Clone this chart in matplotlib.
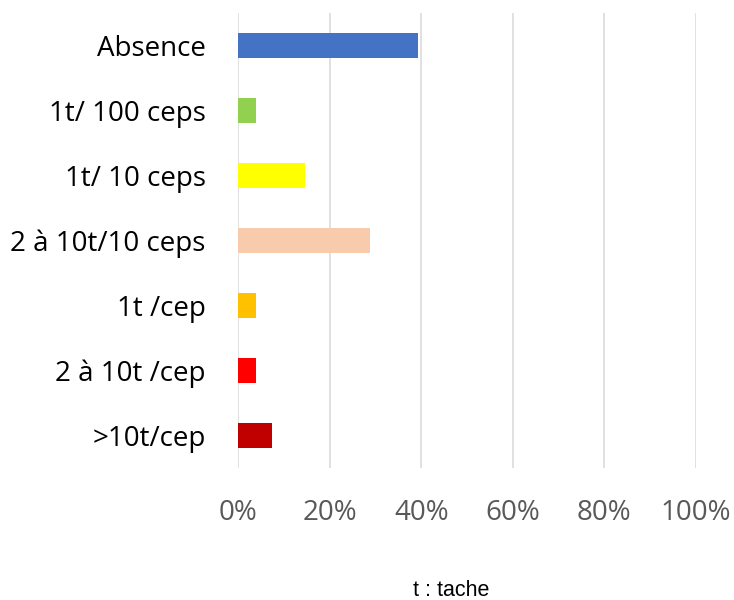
import matplotlib
matplotlib.use("Agg")
import matplotlib.pyplot as plt
from matplotlib.ticker import FuncFormatter

categories = ["Absence", "1t/ 100 ceps", "1t/ 10 ceps", "2 à 10t/10 ceps",
              "1t /cep", "2 à 10t /cep", ">10t/cep"]
values = [39.3, 3.8, 14.5, 28.7, 3.8, 3.8, 7.3]
colors = ["#4472C4", "#92D050", "#FFFF00", "#F8CBAD", "#FFC000", "#FF0000", "#C00000"]
xticks = [0, 20, 40, 60, 80, 100]
note = "t : tache"

plt.rcParams['font.family'] = ['Open Sans', 'DejaVu Sans']

fig = plt.figure(figsize=(7.34, 6.0), dpi=100)
ax = fig.add_axes([0.3247, 0.22, 0.9476 - 0.3247, 0.979 - 0.22])

y = list(range(len(categories)))
ax.barh(y, values, height=0.385, color=colors, zorder=3)
ax.set_ylim(len(categories) - 0.5, -0.5)
ax.set_xlim(0, 100)
ax.set_xticks(xticks)
ax.xaxis.set_major_formatter(FuncFormatter(lambda v, p: f"{int(v)}%"))
ax.set_yticks(y)
ax.set_yticklabels(categories)

ax.grid(axis='x', color='#d9d9d9', linewidth=1.1, zorder=0)
for s in ax.spines.values():
    s.set_visible(False)
ax.tick_params(axis='y', length=0, pad=23.5, labelsize=20, labelcolor='black')
ax.tick_params(axis='x', length=0, pad=22, labelsize=20, labelcolor='#595959')

fig.text(451 / 734, 1 - 590 / 600, note, ha='center', va='center',
         fontsize=15.5, family=['Liberation Sans', 'DejaVu Sans'], color='black')

fig.savefig("out.png", dpi=100)
